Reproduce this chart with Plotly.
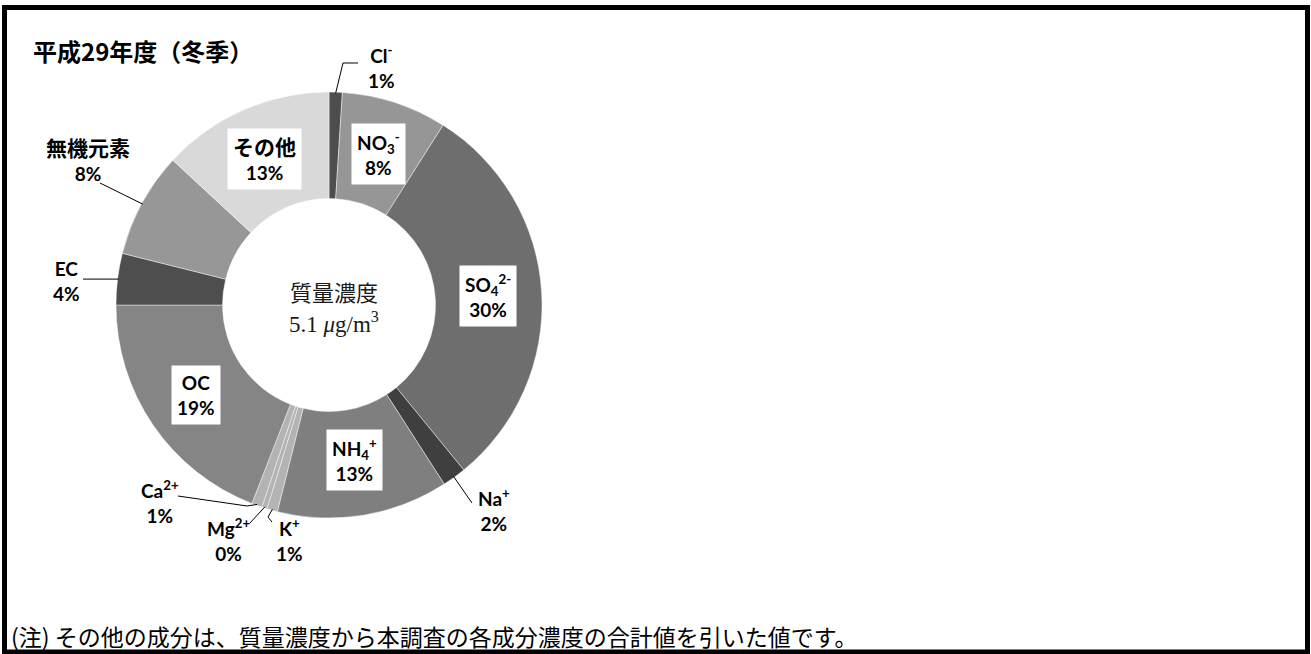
import math
import plotly.graph_objects as go

W, H = 1311, 654

# Composition of PM2.5 (share of mass, %) in clockwise order from 12 o'clock
components = ["Cl-", "NO3-", "SO4 2-", "Na+", "NH4+", "K+", "Mg2+", "Ca2+", "OC", "EC", "無機元素", "その他"]
label_names = [
    "Cl<sup>-</sup>", "NO<sub>3</sub><sup>-</sup>", "SO<sub>4</sub><sup>2-</sup>", "Na<sup>+</sup>",
    "NH<sub>4</sub><sup>+</sup>", "K<sup>+</sup>", "Mg<sup>2+</sup>", "Ca<sup>2+</sup>",
    "OC", "EC", "<span style='font-size:21px'>無機元素</span>", "<span style='font-size:21px'>その他</span>",
]
shares = [1.0, 8.0, 30.1, 1.8, 13.0, 0.8, 0.4, 0.8, 19.1, 3.9, 8.0, 13.1]
total_mass = 5.1  # μg/m3

slice_colors = [
    "#4d4d4d", "#969696", "#6e6e6e", "#3f3f3f", "#7f7f7f", "#b3b3b3",
    "#b3b3b3", "#b3b3b3", "#858585", "#4e4e4e", "#979797", "#d9d9d9",
]

# Pie geometry in pixels
CX, CY, R = 329, 305, 213


def px(x):
    return x / W


def py(y):
    return 1 - y / H


# Label placement: centre of text (px), boxed inside label or not, leader path (px) towards slice edge
label_layout = {
    "Cl-": dict(pos=(381, 67), box=False, leader=[(358, 63), (343, 63)]),
    "NO3-": dict(pos=(378, 154), box=True),
    "SO4 2-": dict(pos=(488, 296), box=True),
    "Na+": dict(pos=(494, 510), box=False, leader=[(472, 503)]),
    "NH4+": dict(pos=(354, 460), box=True),
    "K+": dict(pos=(289, 540), box=False, leader=[(272, 522), (268, 517)]),
    "Mg2+": dict(pos=(228, 540), box=False, leader=[(250, 523)]),
    "Ca2+": dict(pos=(160, 502), box=False, leader=[(178, 496), (247, 506)]),
    "OC": dict(pos=(196, 395), box=True),
    "EC": dict(pos=(66, 281), box=False, leader=[(83, None)]),
    "無機元素": dict(pos=(88, 160), box=False, leader=[(100, 183)]),
    "その他": dict(pos=(264, 159), box=True),
}

fig = go.Figure(
    go.Pie(
        labels=components,
        values=shares,
        sort=False,
        direction="clockwise",
        rotation=0,
        hole=0.5,
        marker=dict(colors=slice_colors, line=dict(color="rgba(255,255,255,0.55)", width=0.8)),
        textinfo="none",
        hoverinfo="label+percent",
        showlegend=False,
        domain=dict(x=[px(CX - R), px(CX + R)], y=[py(CY + R), py(CY - R)]),
    )
)

annotations = []
shapes = []
label_font = "Lato, 'Noto Sans CJK JP', sans-serif"
total = sum(shares)
cum = 0.0
for name, html, v in zip(components, label_names, shares):
    mid = (cum + v / 2) / total * 2 * math.pi
    cum += v
    pct = f"{round(v / total * 100)}%"
    cfg = label_layout[name]
    x, y = cfg["pos"]
    annotations.append(dict(
        x=px(x), y=py(y), xref="paper", yref="paper", showarrow=False,
        xanchor="center", yanchor="middle",
        text=f"<b>{html}<br>{pct}</b>",
        font=dict(family=label_font, size=19, color="#000000"),
        bgcolor="#ffffff" if cfg["box"] else None,
        borderpad=5,
    ))
    if "leader" in cfg:
        ex = CX + R * 0.995 * math.sin(mid)
        ey = CY - R * 0.995 * math.cos(mid)
        pts = [(lx, ey if ly is None else ly) for lx, ly in cfg["leader"]] + [(ex, ey)]
        path = "M " + " L ".join(f"{px(a):.5f},{py(b):.5f}" for a, b in pts)
        shapes.append(dict(type="path", xref="paper", yref="paper", path=path,
                           line=dict(color="#000000", width=1)))

# Centre of the doughnut: total mass concentration
annotations.append(dict(
    x=px(334), y=py(291), xref="paper", yref="paper", showarrow=False,
    xanchor="center", yanchor="middle", text="質量濃度",
    font=dict(family="'Noto Sans CJK JP'", size=22, color="#1a1a1a"),
))
annotations.append(dict(
    x=px(334), y=py(322), xref="paper", yref="paper", showarrow=False,
    xanchor="center", yanchor="middle",
    text=f"{total_mass} <i>μ</i>g/m<sup>3</sup>",
    font=dict(family="'Liberation Serif', serif", size=23, color="#1a1a1a"),
))

# Title
annotations.append(dict(
    x=px(31), y=py(50), xref="paper", yref="paper", showarrow=False,
    xanchor="left", yanchor="middle", text="<b>平成29年度（冬季）</b>",
    font=dict(family="'Noto Sans CJK JP'", size=24, color="#000000"),
))

# Footnote
annotations.append(dict(
    x=px(9), y=py(636), xref="paper", yref="paper", showarrow=False,
    xanchor="left", yanchor="middle",
    text="(注) その他の成分は、質量濃度から本調査の各成分濃度の合計値を引いた値です。",
    font=dict(family="'Noto Sans CJK JP'", size=23, color="#000000"),
))

# Outer frame
shapes.append(dict(type="rect", xref="paper", yref="paper",
                   x0=px(4.5), x1=px(1307.5), y0=py(652), y1=py(7.5),
                   line=dict(color="#000000", width=5), fillcolor="rgba(0,0,0,0)"))

fig.update_layout(
    width=W, height=H,
    margin=dict(l=0, r=0, t=0, b=0),
    paper_bgcolor="#ffffff",
    plot_bgcolor="#ffffff",
    annotations=annotations,
    shapes=shapes,
)

fig.write_html("out.html")
